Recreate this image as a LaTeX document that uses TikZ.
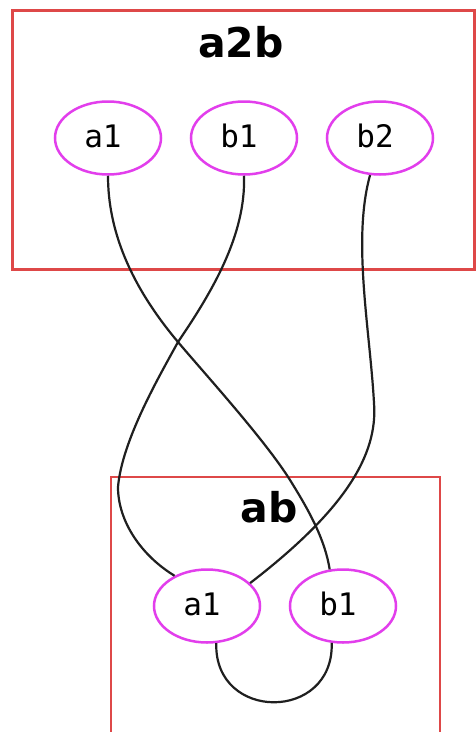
\documentclass[tikz,border=0pt]{standalone}
\usepackage{fontspec}
\setmainfont{DejaVu Sans}
\newfontfamily\labelfont{DejaVu Sans Mono}
\usetikzlibrary{shapes.geometric}
\definecolor{clusterred}{RGB}{222,72,72}
\definecolor{nodemagenta}{RGB}{226,62,236}
\tikzset{
  cluster/.style={draw=clusterred, line width=2.8pt},
  clustertitle/.style={font=\fontsize{41}{46}\selectfont\bfseries, inner sep=0pt, anchor=base},
  port/.style={ellipse, draw=nodemagenta, line width=2.5pt, minimum width=106pt,
               minimum height=73pt, inner sep=0pt},
  portlabel/.style={font=\labelfont\fontsize{31}{34}\selectfont, inner sep=0pt},
  wire/.style={line width=2.2pt, black!88}
}
\newcommand{\portnode}[3]{%
  \node[port] (#1) at (#2) {};
  \node[portlabel, xshift=-5pt, yshift=2pt] (#1-text) at (#1) {#3};
}
\begin{document}
\begin{tikzpicture}[x=1pt,y=-1pt]
  \useasboundingbox (0,0) rectangle (476,732);
  \fill[white] (0,0) rectangle (476,732);

  % cluster a2b
  \draw[cluster] (12.5,10.5) rectangle (474.5,269.5);
  \node[clustertitle] (ta2b) at (241,57) {a2b};
  \portnode{ua1}{108,138}{a1}
  \portnode{ub1}{244,138}{b1}
  \portnode{ub2}{380,138}{b2}

  % cluster ab (runs past the lower edge)
  \draw[cluster] (111,745) -- (111,477) -- (440,477) -- (440,745);
  \node[clustertitle] (tab) at (269,522) {ab};
  \portnode{la1}{207,606}{a1}
  \portnode{lb1}{343,606}{b1}

  % connections
  \draw[wire] (ua1.south) .. controls (108,230) and (130,285) .. (178,342)
              .. controls (205,374) and (265,440) .. (290,480)
              .. controls (310,512) and (325,540) .. (lb1.110);
  \draw[wire] (ub1.south) .. controls (246,235) and (212,292) .. (178,342)
              .. controls (160,375) and (122,440) .. (118,487)
              .. controls (118,522) and (142,556) .. (la1.137);
  \draw[wire] (ub2.255) .. controls (352,240) and (370,330) .. (374,403)
              .. controls (378,455) and (345,510) .. (la1.28);
  \draw[wire] (la1.284) .. controls (214,722) and (334,722) .. (lb1.253);
\end{tikzpicture}
\end{document}
